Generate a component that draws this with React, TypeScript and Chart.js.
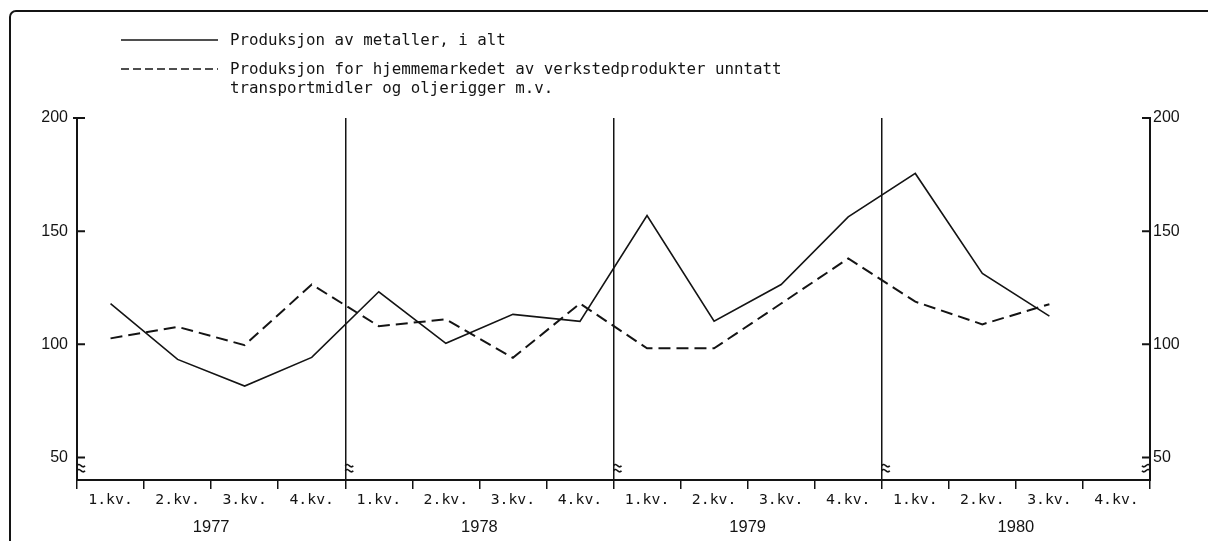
import React, { useEffect, useRef } from "react";
import { Chart, registerables } from "chart.js";

Chart.register(...registerables);

// ---- data ----
const quarterLabels = [
  "1.kv.", "2.kv.", "3.kv.", "4.kv.",
  "1.kv.", "2.kv.", "3.kv.", "4.kv.",
  "1.kv.", "2.kv.", "3.kv.", "4.kv.",
  "1.kv.", "2.kv.", "3.kv.", "4.kv.",
];
const years = ["1977", "1978", "1979", "1980"];
const metaller = [118.0, 93.3, 81.5, 94.2, 123.2, 100.4, 113.2, 110.1, 156.9, 110.2, 126.4, 156.3, 175.5, 131.3, 112.4, null];
const hjemmemarked = [102.6, 107.7, 99.6, 126.4, 108.0, 111.0, 94.0, 118.0, 98.2, 98.2, 118.0, 137.9, 118.8, 108.8, 117.7, null];
const yTickValues = [50, 100, 150, 200];
const yMin = 40;
const yMax = 200;
const legendSolid = ["Produksjon av metaller, i alt"];
const legendDashed = [
  "Produksjon for hjemmemarkedet av verkstedprodukter unntatt",
  "transportmidler og oljerigger m.v.",
];

const INK = "#141414";
const MONO = "'DejaVu Sans Mono', 'Liberation Mono', monospace";
const SANS = "'Liberation Sans', Arial, sans-serif";

const decorPlugin = {
  id: "decor",
  afterDraw(chart: any) {
    const ctx = chart.ctx as CanvasRenderingContext2D;
    const x = chart.scales.x;
    const yl = chart.scales.y;
    const { left, right, bottom } = chart.chartArea;
    ctx.save();
    ctx.strokeStyle = INK;
    ctx.fillStyle = INK;

    // outer frame (left and top)
    ctx.lineWidth = 2;
    ctx.beginPath();
    ctx.moveTo(10, 545);
    ctx.lineTo(10, 17);
    ctx.arcTo(10, 11, 16, 11, 6);
    ctx.lineTo(1230, 11);
    ctx.stroke();

    // legend
    ctx.lineWidth = 1.5;
    ctx.beginPath();
    ctx.moveTo(121, 40);
    ctx.lineTo(218, 40);
    ctx.stroke();
    ctx.setLineDash([8, 4]);
    ctx.beginPath();
    ctx.moveTo(121, 69);
    ctx.lineTo(218, 69);
    ctx.stroke();
    ctx.setLineDash([]);
    ctx.font = `15.8px ${MONO}`;
    ctx.textAlign = "left";
    ctx.textBaseline = "middle";
    legendSolid.forEach((t, i) => ctx.fillText(t, 230, 41 + i * 19));
    legendDashed.forEach((t, i) => ctx.fillText(t, 230, 70 + i * 19));

    // inward y ticks on both axes
    ctx.lineWidth = 2;
    yTickValues.forEach((v) => {
      const py = yl.getPixelForValue(v);
      ctx.beginPath();
      ctx.moveTo(left - (v === 200 ? 4 : 0), py);
      ctx.lineTo(left + 8, py);
      ctx.moveTo(right - 8, py);
      ctx.lineTo(right, py);
      ctx.stroke();
    });

    // break symbols near bottom of each vertical line
    ctx.lineWidth = 1.6;
    const breakY = yl.getPixelForValue(45);
    const drawBreak = (bx: number, dir: number) => {
      for (let k = 0; k < 2; k++) {
        const yy = breakY - 3 + k * 5;
        ctx.beginPath();
        ctx.moveTo(bx, yy);
        ctx.bezierCurveTo(bx + dir * 3, yy - 4, bx + dir * 5, yy + 4, bx + dir * 8, yy);
        ctx.stroke();
      }
    };
    const half = (x.getPixelForValue(1) - x.getPixelForValue(0)) / 2;
    for (let i = 0; i < 4; i++) {
      drawBreak(x.getPixelForValue(i * 4) - half, 1);
    }
    drawBreak(right, -1);

    // year labels
    ctx.font = `16.5px ${SANS}`;
    ctx.textAlign = "center";
    ctx.textBaseline = "middle";
    years.forEach((yr, i) => {
      const cx = (x.getPixelForValue(i * 4) + x.getPixelForValue(i * 4 + 3)) / 2;
      ctx.fillText(yr, cx, bottom + 47);
    });
    ctx.restore();
  },
};

export default function App() {
  const canvasRef = useRef<HTMLCanvasElement | null>(null);

  useEffect(() => {
    const canvas = canvasRef.current;
    if (!canvas) return;
    const chart = new Chart(canvas, {
      type: "line",
      data: {
        labels: quarterLabels,
        datasets: [
          {
            label: legendSolid[0],
            data: metaller,
            borderColor: INK,
            borderWidth: 1.6,
            pointRadius: 0,
            tension: 0,
            fill: false,
          },
          {
            label: legendDashed.join(" "),
            data: hjemmemarked,
            borderColor: INK,
            borderWidth: 2,
            borderDash: [12, 6],
            pointRadius: 0,
            tension: 0,
            fill: false,
          },
        ],
      },
      options: {
        animation: false,
        responsive: true,
        maintainAspectRatio: false,
        layout: { padding: { top: 118, left: 0, right: 0, bottom: 0 } },
        plugins: {
          legend: { display: false },
          tooltip: { enabled: false },
          title: { display: false },
        },
        scales: {
          x: {
            type: "category",
            offset: true,
            grid: {
              offset: true,
              drawOnChartArea: true,
              drawTicks: true,
              tickLength: 9,
              color: (c: any) => (c.index % 4 === 0 ? INK : "rgba(0,0,0,0)"),
              lineWidth: 1.5,
              tickColor: INK,
              tickWidth: 1.5,
            },
            border: { display: true, color: INK, width: 2 },
            ticks: {
              autoSkip: false,
              maxRotation: 0,
              minRotation: 0,
              color: INK,
              padding: 2,
              font: { family: MONO, size: 14.8 },
            },
            afterFit: (s: any) => {
              s.height = 61;
            },
          },
          y: {
            type: "linear",
            position: "left",
            min: yMin,
            max: yMax,
            grid: { display: false, drawTicks: false },
            border: { display: true, color: INK, width: 2 },
            ticks: {
              color: INK,
              padding: 9,
              font: { family: SANS, size: 16 },
            },
            afterBuildTicks: (s: any) => {
              s.ticks = yTickValues.map((v) => ({ value: v }));
            },
            afterFit: (s: any) => {
              s.width = 77;
            },
          },
          y2: {
            type: "linear",
            position: "right",
            min: yMin,
            max: yMax,
            grid: { display: false, drawTicks: false },
            border: { display: true, color: INK, width: 2 },
            ticks: {
              color: INK,
              padding: 3,
              font: { family: SANS, size: 16 },
            },
            afterBuildTicks: (s: any) => {
              s.ticks = yTickValues.map((v) => ({ value: v }));
            },
            afterFit: (s: any) => {
              s.width = 58;
            },
          },
        },
      },
      plugins: [decorPlugin],
    });
    return () => chart.destroy();
  }, []);

  return (
    <div
      style={{
        position: "absolute",
        left: 0,
        top: 0,
        width: 1208,
        height: 541,
        background: "#fff",
      }}
    >
      <canvas ref={canvasRef} />
    </div>
  );
}
